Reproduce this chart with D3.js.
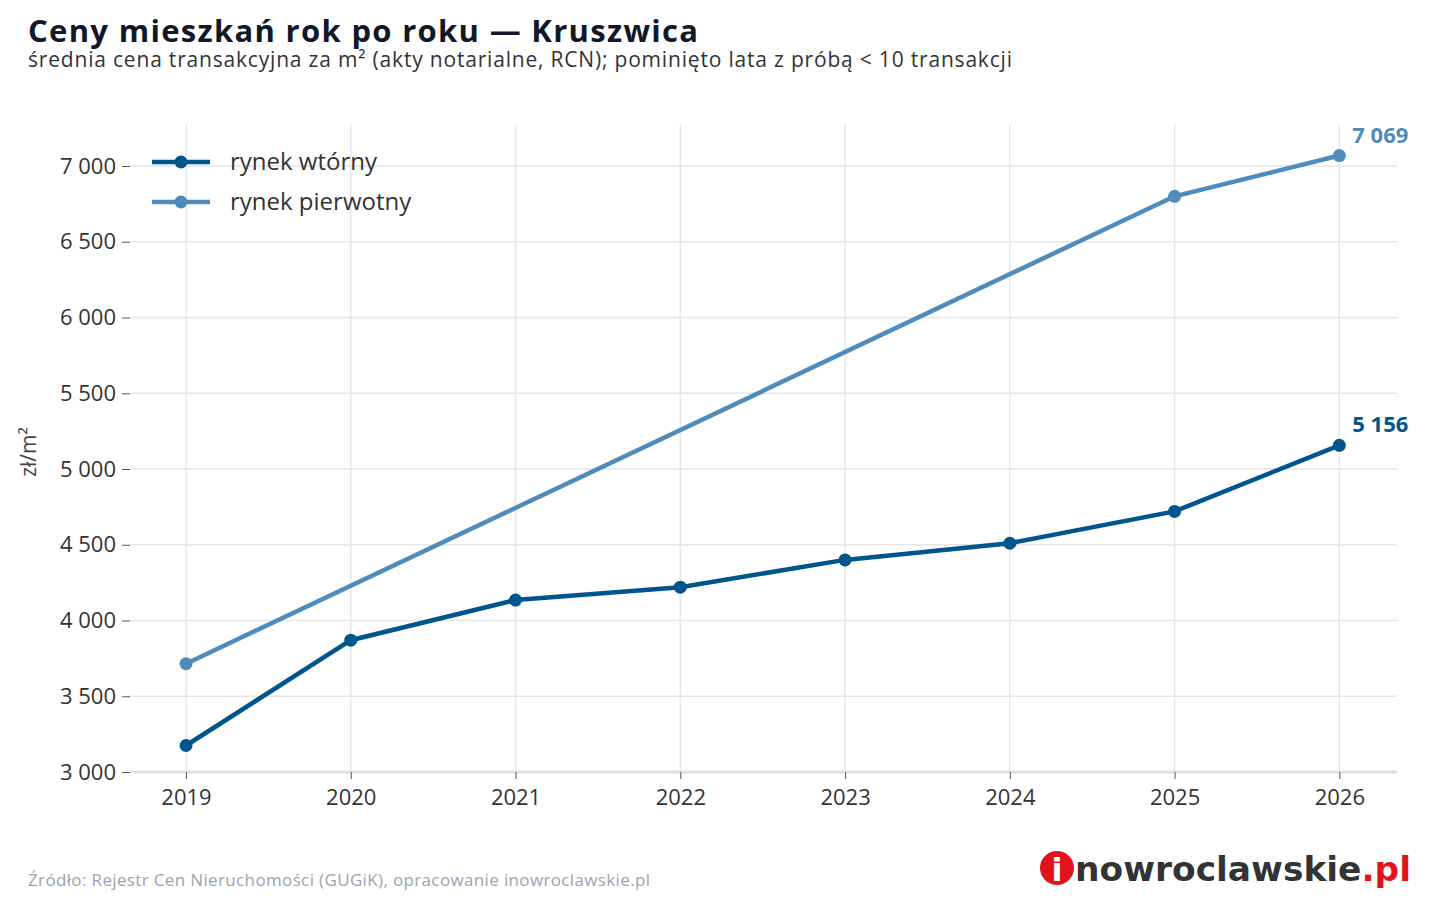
<!DOCTYPE html>
<html><head><meta charset="utf-8">
<script src="https://cdn.jsdelivr.net/npm/d3@7"></script>
<style>body{margin:0;background:#fff;font-family:"Open Sans","Noto Sans",sans-serif}</style>
</head><body><div id="chart"></div>
<script>
const years = [2019, 2020, 2021, 2022, 2023, 2024, 2025, 2026];
const wtorny = [3175, 3870, 4135, 4220, 4400, 4510, 4720, 5156];
const pierwotnyYears = [2019, 2025, 2026];
const pierwotny = [3715, 6800, 7069];
const yTicks = [3000, 3500, 4000, 4500, 5000, 5500, 6000, 6500, 7000];

const W = 1440, H = 900;
const m = { top: 125, right: 43, bottom: 128, left: 130 };
const svg = d3.select("#chart").append("svg").attr("width", W).attr("height", H);
const fmt = v => d3.format(",")(v).replace(/,/g, " ");

const x = d3.scaleLinear().domain([2018.66, 2026.35]).range([m.left, W - m.right]);
const y = d3.scaleLinear().domain([3000, 7000]).range([772, 166]);

const g = svg.append("g");
g.selectAll(".hg").data(yTicks).join("line")
  .attr("x1", m.left).attr("x2", W - m.right)
  .attr("y1", d => y(d)).attr("y2", d => y(d)).attr("stroke", "#e6e6e6").attr("stroke-width", 1.5);
g.selectAll(".vg").data(years).join("line")
  .attr("x1", d => x(d)).attr("x2", d => x(d))
  .attr("y1", m.top).attr("y2", 772).attr("stroke", "#e6e6e6").attr("stroke-width", 1.5);
g.append("line").attr("x1", m.left).attr("x2", W - m.right).attr("y1", 772).attr("y2", 772)
  .attr("stroke", "#e0e0e0").attr("stroke-width", 3);

const ya = svg.append("g").attr("transform", `translate(${m.left},0)`)
  .call(d3.axisLeft(y).tickValues(yTicks).tickFormat(fmt).tickSize(8).tickPadding(6));
const xa = svg.append("g").attr("transform", `translate(0,772)`)
  .call(d3.axisBottom(x).tickValues(years).tickFormat(d3.format("d")).tickSize(7).tickPadding(10));
[ya, xa].forEach(a => {
  a.attr("font-family", null).attr("font-size", null);
  a.select(".domain").remove();
  a.selectAll("line").attr("stroke", "#555");
  a.selectAll("text").attr("fill", "#333").style("font-size", "22px");
});

svg.append("text").attr("transform", "translate(36,452) rotate(-90)").attr("text-anchor", "middle")
  .attr("fill", "#444").style("font-size", "21px").text("zł/m²");

const series = [
  { name: "rynek wtórny", xs: years, vs: wtorny, color: "#00558c" },
  { name: "rynek pierwotny", xs: pierwotnyYears, vs: pierwotny, color: "#4f8bbb" }
];
const line = d3.line().x(d => x(d[0])).y(d => y(d[1]));
series.slice().reverse().forEach(s => {
  const pts = s.xs.map((yr, i) => [yr, s.vs[i]]);
  svg.append("path").datum(pts).attr("d", line).attr("fill", "none")
    .attr("stroke", s.color).attr("stroke-width", 4.5);
  svg.selectAll(null).data(pts).join("circle").attr("cx", d => x(d[0])).attr("cy", d => y(d[1]))
    .attr("r", 6.5).attr("fill", s.color);
  const last = pts[pts.length - 1];
  svg.append("text").attr("x", x(last[0]) + 13).attr("y", y(last[1]) - 13)
    .attr("fill", s.color).style("font-size", "22px").style("font-weight", "700").text(fmt(last[1]));
});

series.forEach((s, i) => {
  const ly = 162 + i * 40;
  svg.append("line").attr("x1", 152).attr("x2", 210).attr("y1", ly).attr("y2", ly)
    .attr("stroke", s.color).attr("stroke-width", 4.5);
  svg.append("circle").attr("cx", 181).attr("cy", ly).attr("r", 6.5).attr("fill", s.color);
  svg.append("text").attr("x", 230).attr("y", ly + 8).attr("fill", "#333")
    .style("font-size", "24px").text(s.name);
});

svg.append("text").attr("x", 28).attr("y", 42).attr("fill", "#111827")
  .style("font-size", "31px").style("font-weight", "700").attr("textLength", 670).text("Ceny mieszkań rok po roku — Kruszwica");
svg.append("text").attr("x", 28).attr("y", 67).attr("fill", "#333")
  .style("font-size", "21px").attr("textLength", 984).text("średnia cena transakcyjna za m² (akty notarialne, RCN); pominięto lata z próbą < 10 transakcji");
svg.append("text").attr("x", 28).attr("y", 886).attr("fill", "#9ca3af")
  .style("font-size", "17px").attr("textLength", 622).text("Źródło: Rejestr Cen Nieruchomości (GUGiK), opracowanie inowroclawskie.pl");

svg.append("circle").attr("cx", 1057).attr("cy", 868).attr("r", 17).attr("fill", "#e3131b");
svg.append("text").attr("x", 1057).attr("y", 881).attr("text-anchor", "middle").attr("fill", "#fff")
  .style("font-size", "32px").style("font-weight", "900").style("font-family", "DejaVu Sans").text("i");
const lt = svg.append("text").attr("x", 1075).attr("y", 881)
  .style("font-size", "34px").style("font-weight", "700").style("font-family", "DejaVu Sans")
  .attr("textLength", 336).attr("lengthAdjust", "spacingAndGlyphs");
lt.append("tspan").attr("fill", "#333").text("nowroclawskie");
lt.append("tspan").attr("fill", "#e3131b").text(".pl");
</script></body></html>
